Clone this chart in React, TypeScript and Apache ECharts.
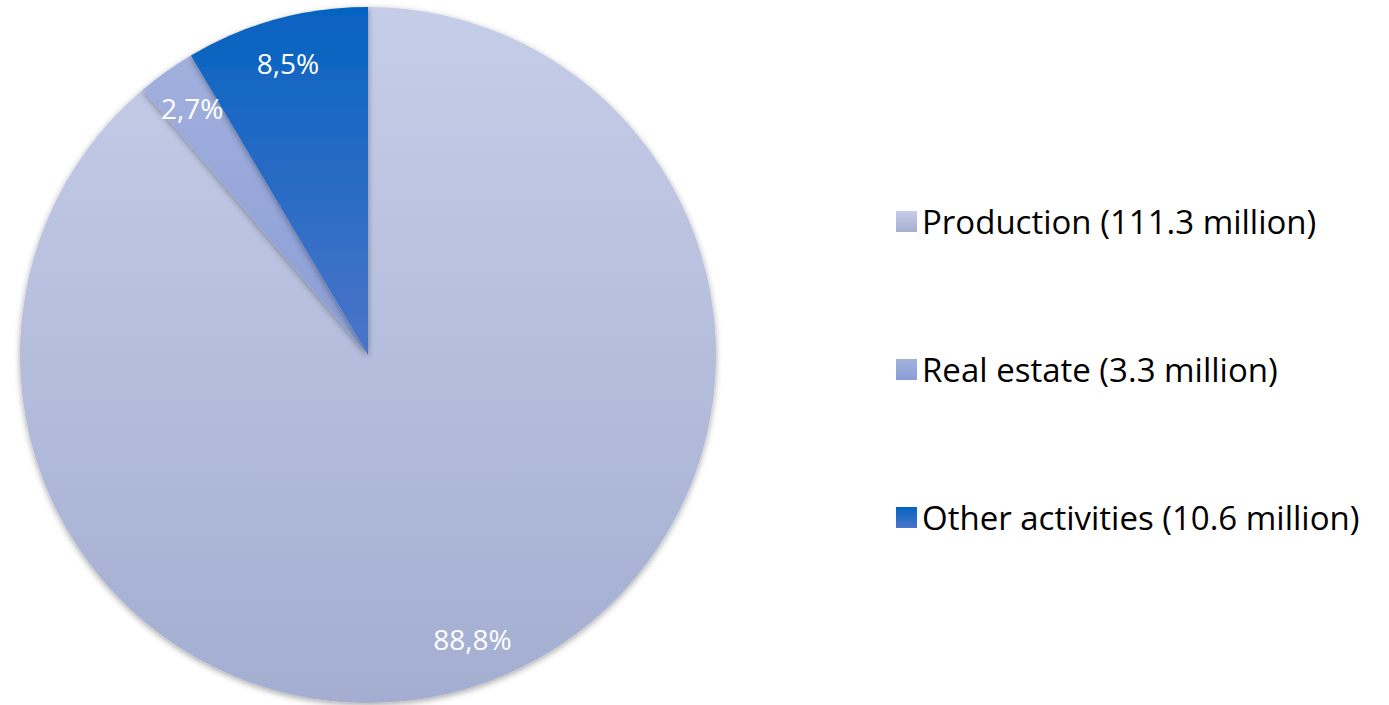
import React, { useEffect, useRef } from "react";
import * as echarts from "echarts";

const categories = [
  "Production (111.3 million)",
  "Real estate (3.3 million)",
  "Other activities (10.6 million)",
];
const shares = [88.8, 2.7, 8.5];
const shareLabels = ["88,8%", "2,7%", "8,5%"];
const sliceGradients = [
  ["#c6cde8", "#a3aed1"],
  ["#a2b0dd", "#8a9dd5"],
  ["#0563c1", "#4c74c8"],
];

export default function App() {
  const ref = useRef<HTMLDivElement>(null);
  useEffect(() => {
    if (!ref.current) return;
    const chart = echarts.init(ref.current, null, { renderer: "svg" });
    const grad = (i: number) =>
      new echarts.graphic.LinearGradient(0, 0, 0, 1, [
        { offset: 0, color: sliceGradients[i][0] },
        { offset: 1, color: sliceGradients[i][1] },
      ]);
    chart.setOption({
      animation: false,
      backgroundColor: "#ffffff",
      legend: {
        orient: "vertical",
        left: 891,
        top: 198,
        icon: "rect",
        itemWidth: 21,
        itemHeight: 21,
        itemGap: 111,
        selectedMode: false,
        data: categories,
        textStyle: {
          fontFamily: "Open Sans",
          fontSize: 33,
          color: "#000000",
          lineHeight: 37,
          padding: [0, 0, 0, 0],
        },
      },
      series: [
        {
          type: "pie",
          center: [368, 355],
          radius: 348,
          startAngle: 90,
          clockwise: true,
          silent: true,
          label: { show: false },
          labelLine: { show: false },
          itemStyle: {
            borderWidth: 0,
            shadowBlur: 6,
            shadowOffsetY: 2,
            shadowColor: "rgba(0,0,0,0.35)",
          },
          data: categories.map((name, i) => ({
            name,
            value: shares[i],
            itemStyle: { color: grad(i) },
          })),
        },
        {
          type: "pie",
          center: [368, 355],
          radius: [252, 348],
          startAngle: 90,
          clockwise: true,
          silent: true,
          legendHoverLink: false,
          itemStyle: { color: "rgba(0,0,0,0)", borderWidth: 0 },
          label: {
            show: true,
            position: "inside",
            color: "#ffffff",
            fontFamily: "Open Sans",
            fontSize: 28,
            formatter: (p: any) => shareLabels[p.dataIndex],
          },
          labelLine: { show: false },
          data: categories.map((name, i) => ({ name, value: shares[i] })),
        },
      ],
    });
    return () => chart.dispose();
  }, []);
  return (
    <div
      ref={ref}
      style={{ position: "fixed", left: 0, top: 0, width: 1389, height: 705 }}
    />
  );
}
